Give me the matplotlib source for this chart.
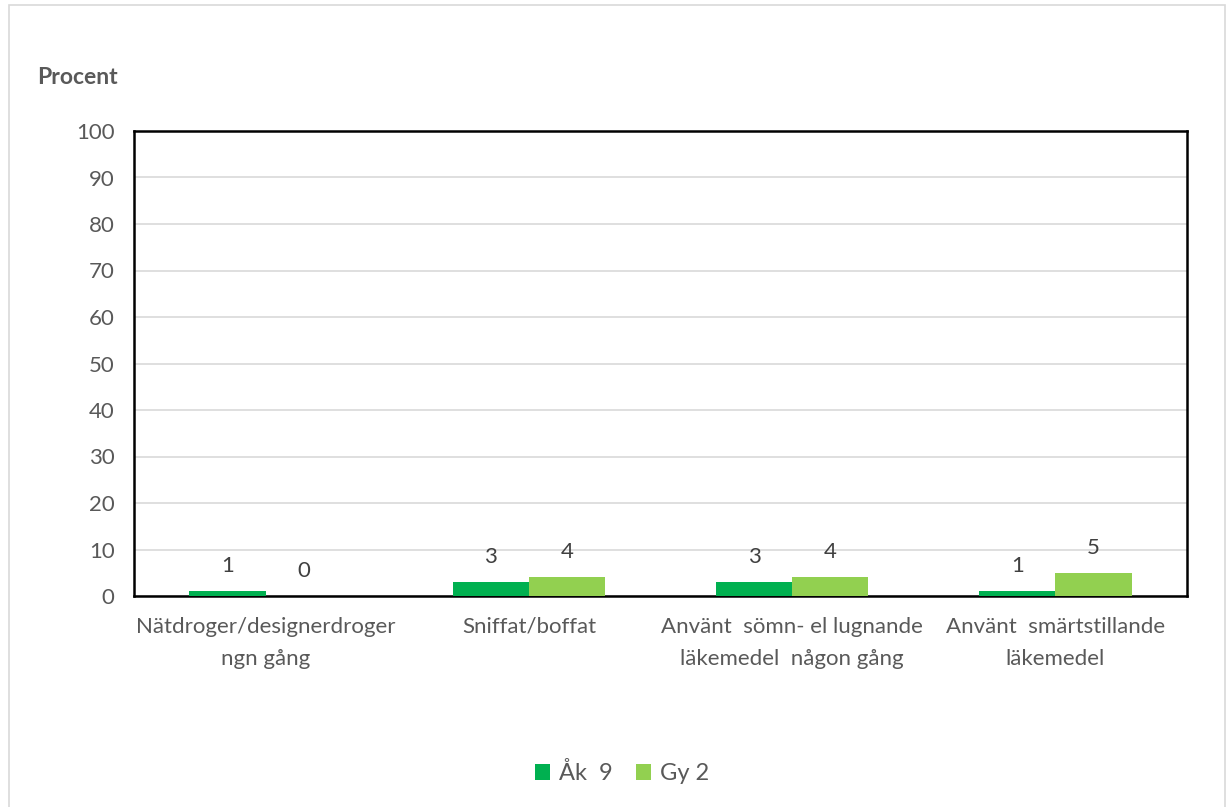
import matplotlib.pyplot as plt
import numpy as np
from matplotlib.patches import Rectangle

categories = ['Nätdroger/designerdroger\nngn gång', 'Sniffat/boffat',
              'Använt  sömn- el lugnande\nläkemedel  någon gång',
              'Använt  smärtstillande\nläkemedel']
ak9 = [1, 3, 3, 1]
gy2 = [0, 4, 4, 5]
series_names = ['Åk  9', 'Gy 2']

txt = '#595959'
plt.rcParams['font.family'] = ['Lato', 'DejaVu Sans']

fig = plt.figure(figsize=(12.29, 8.07), dpi=100)
fig.patches.append(Rectangle((9/1229, -0.01), (1225-9)/1229, 1 - 5/807 + 0.01,
                             transform=fig.transFigure, fill=False,
                             edgecolor='#D9D9D9', linewidth=1.2))
ax = fig.add_axes([134/1229, 1-596/807, (1187-134)/1229, (596-131)/807])

x = np.arange(len(categories))
w = 0.29
b1 = ax.bar(x - w/2, ak9, w, color='#00B050', label=series_names[0], zorder=3)
b2 = ax.bar(x + w/2, gy2, w, color='#92D050', label=series_names[1], zorder=3)

for bars, vals in ((b1, ak9), (b2, gy2)):
    for r, v in zip(bars, vals):
        ax.annotate(str(v), (r.get_x() + r.get_width()/2, v),
                    xytext=(0, 18), textcoords='offset points',
                    ha='center', va='center', fontsize=16, color='#404040')

ax.set_xlim(-0.5, 3.5)
ax.set_ylim(0, 100)
ax.set_yticks(range(0, 101, 10))
ax.grid(axis='y', color='#D9D9D9', linewidth=1.2, zorder=0)
ax.set_xticks(x)
ax.set_xticklabels(categories, fontsize=16, color=txt, linespacing=1.75)
ax.tick_params(axis='y', labelsize=16, labelcolor=txt, length=0, pad=14)
ax.tick_params(axis='x', length=0, pad=15)
for s in ax.spines.values():
    s.set_color('black')
    s.set_linewidth(1.8)

fig.text(37/1229, 1-77/807, 'Procent', fontsize=16.5, fontweight='bold',
         color=txt, va='center', ha='left')

leg = fig.legend(loc='center', bbox_to_anchor=(622/1229, 1-773/807), ncol=2,
                 frameon=False, fontsize=17, handlelength=0.65, handleheight=0.65,
                 handletextpad=0.35, columnspacing=1.0)
for t in leg.get_texts():
    t.set_color(txt)

fig.savefig('out.png', dpi=100)
